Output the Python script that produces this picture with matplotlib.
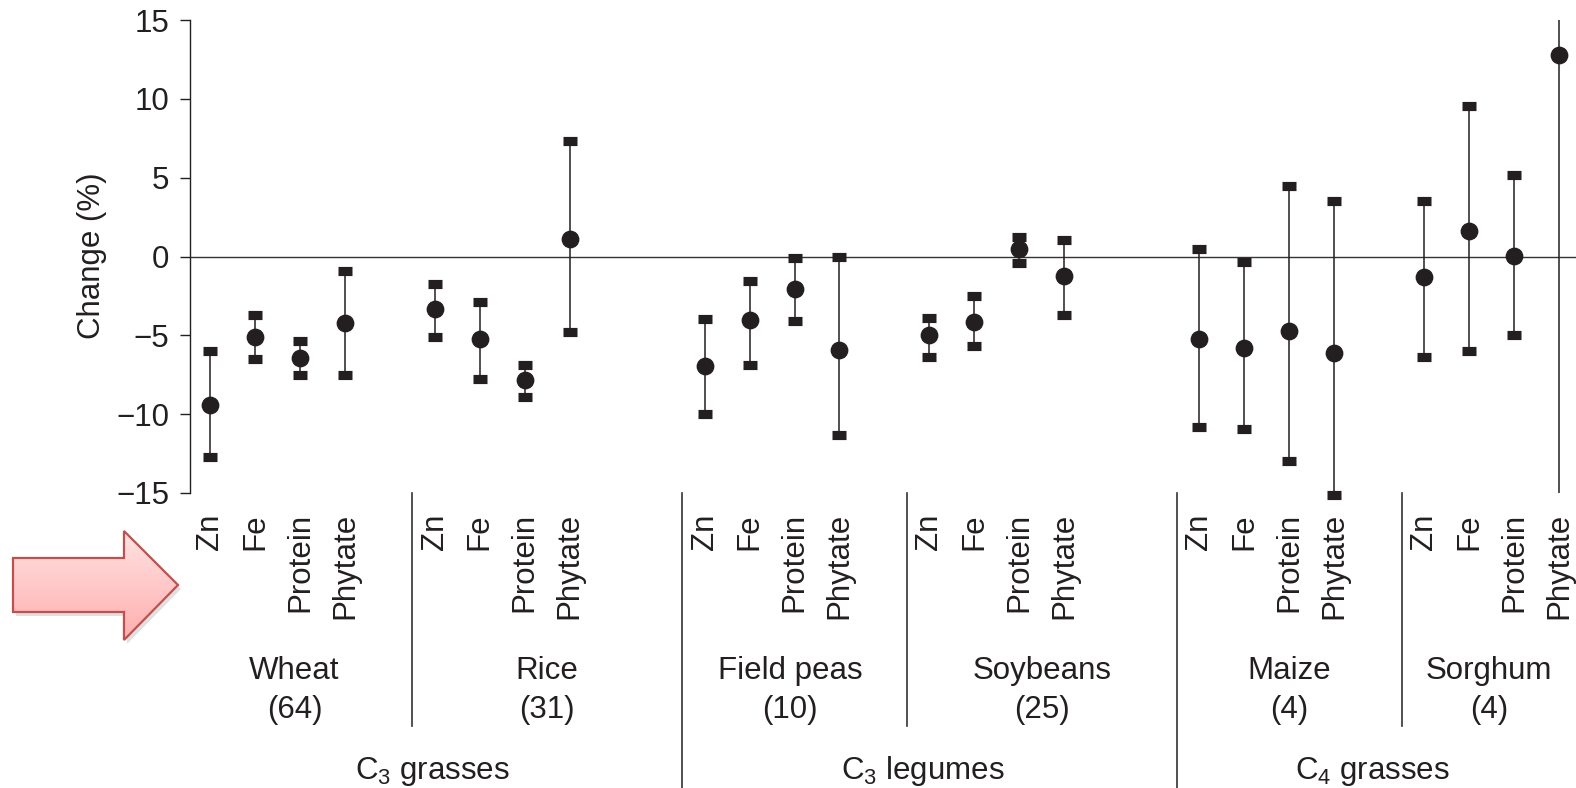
import numpy as np
import matplotlib.pyplot as plt
from matplotlib.patches import Polygon
from matplotlib.colors import LinearSegmentedColormap
from matplotlib.transforms import blended_transform_factory

plt.rcParams['font.family'] = ['Liberation Sans', 'DejaVu Sans']
plt.rcParams['mathtext.default'] = 'regular'

# ---------------- Data ----------------
nutrients = ["Zn", "Fe", "Protein", "Phytate"]
crops = ["Wheat", "Rice", "Field peas", "Soybeans", "Maize", "Sorghum"]
n_studies = [64, 31, 10, 25, 4, 4]
crop_classes = ["C$_3$ grasses", "C$_3$ legumes", "C$_4$ grasses"]

# mean change (%) per crop, nutrients in order Zn, Fe, Protein, Phytate
change = [
    [-9.4, -5.1, -6.45, -4.2],    # wheat
    [-3.35, -5.25, -7.85, 1.1],   # rice
    [-6.95, -4.05, -2.05, -5.9],  # field peas
    [-4.95, -4.15, 0.5, -1.25],   # soybeans
    [-5.25, -5.8, -4.75, -6.1],   # maize
    [-1.3, 1.6, 0.05, 12.75],     # sorghum
]
lower = [
    [-12.7, -6.5, -7.5, -7.5],
    [-5.1, -7.75, -8.9, -4.8],
    [-10.0, -6.85, -4.1, -11.3],
    [-6.35, -5.7, -0.4, -3.7],
    [-10.8, -10.95, -13.0, -15.1],
    [-6.4, -6.0, -5.0, -17.0],
]
upper = [
    [-6.0, -3.7, -5.35, -0.9],
    [-1.75, -2.9, -6.9, 7.35],
    [-3.95, -1.55, -0.1, 0.0],
    [-3.9, -2.5, 1.25, 1.05],
    [0.5, -0.35, 4.45, 3.55],
    [3.55, 9.55, 5.15, 19.0],
]

# ---------------- Layout ----------------
W, H = 1576, 788
ink = "#231f20"
fs = 22.5

group_start = [0, 5, 11, 16, 22, 27]
crop_label_x = [1.88, 7.5, 12.9, 18.5, 24.0, 28.45]
class_label_x = [4.94, 15.85, 25.85]
separators = [4.5, 10.5, 15.5, 21.5, 26.5]
long_separators = [10.5, 21.5]
ylim = (-15, 15)

fig = plt.figure(figsize=(W / 100, H / 100), dpi=100)
ax = fig.add_axes([190 / W, 1 - 493 / H, 1 - 190 / W, 473 / H])

xpos, xlabels = [], []
for g, start in enumerate(group_start):
    for k, nut in enumerate(nutrients):
        x = start + k
        lo, hi, m = lower[g][k], upper[g][k], change[g][k]
        xpos.append(x)
        xlabels.append(nut)
        # bars running far past the axis limits get cut at the frame
        cut = hi > ylim[1] + 0.5 or lo < ylim[0] - 0.5
        ax.errorbar(x, m, yerr=[[m - lo], [hi - m]], fmt="o", color=ink,
                    markersize=11.8, elinewidth=1.1, capsize=4.8,
                    capthick=6.6, clip_on=cut, zorder=3)

ax.axhline(0, color="#333333", lw=1.0, zorder=1)

ax.set_xlim(-0.445, 30.38)
ax.set_ylim(*ylim)
ax.set_yticks(np.arange(-15, 16, 5))
ax.set_yticklabels([str(v).replace("-", "\u2212") for v in range(-15, 16, 5)])
ax.set_xticks(xpos)
ax.set_xticklabels(xlabels, rotation=90, fontsize=fs, color=ink)
ax.tick_params(axis="x", length=0, pad=14.5)
ax.tick_params(axis="y", length=7, width=1, direction="out", pad=8,
               labelsize=fs, colors=ink)
for side in ["top", "right", "bottom"]:
    ax.spines[side].set_visible(False)
ax.spines["left"].set_color(ink)
ax.spines["left"].set_linewidth(1.0)

fig.text(92 / W, 1 - 256 / H, "Change (%)", rotation=90, ha="center",
         va="center", fontsize=fs, color=ink)

# group labels and separators below the axis
trans = blended_transform_factory(ax.transData, fig.transFigure)
for x in separators:
    y1 = 0 if x in long_separators else 1 - 726 / H
    ax.plot([x, x], [1 - 493 / H, y1], color="#333333", lw=1.2,
            transform=trans, clip_on=False)
for x, name, n in zip(crop_label_x, crops, n_studies):
    ax.text(x, 1 - 679 / H, name, transform=trans, ha="center",
            va="baseline", fontsize=fs, color=ink)
    ax.text(x, 1 - 718 / H, f"({n})", transform=trans, ha="center",
            va="baseline", fontsize=fs, color=ink)
for x, name in zip(class_label_x, crop_classes):
    ax.text(x, 1 - 779 / H, name, transform=trans, ha="center",
            va="baseline", fontsize=fs, color=ink)

# ---------------- Arrow callout ----------------
over = fig.add_axes([0, 0, 1, 1], zorder=5)
over.axis("off")
arrow = np.array([[13, 558], [124, 558], [124, 531], [178, 585],
                  [124, 640], [124, 612], [13, 612]])
shadow = Polygon(arrow + [3, 4], closed=True, fc="#000000", ec="none",
                 alpha=0.12)
over.add_patch(shadow)
grad = np.linspace(0, 1, 256).reshape(-1, 1)
pink = LinearSegmentedColormap.from_list("pink", ["#ffe2e2", "#ffaeae"])
im = over.imshow(grad, cmap=pink, aspect="auto",
                 extent=[13, 178, 640, 531], zorder=6)
body = Polygon(arrow, closed=True, fc="none", ec="#c0504d", lw=1.6,
               zorder=7, joinstyle="miter")
over.add_patch(body)
im.set_clip_path(Polygon(arrow, closed=True, transform=over.transData))
over.set_xlim(0, W)
over.set_ylim(H, 0)

fig.savefig("out.png", dpi=100)
